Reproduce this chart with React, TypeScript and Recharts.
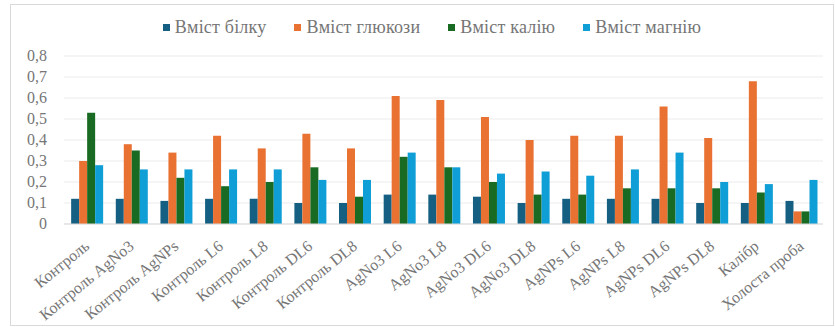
import React from "react";
import { BarChart, Bar, XAxis, YAxis, CartesianGrid, Legend } from "recharts";

const categories = [
  "Контроль",
  "Контроль AgNo3",
  "Контроль AgNPs",
  "Контроль L6",
  "Контроль L8",
  "Контроль DL6",
  "Контроль DL8",
  "AgNo3 L6",
  "AgNo3 L8",
  "AgNo3 DL6",
  "AgNo3 DL8",
  "AgNPs L6",
  "AgNPs L8",
  "AgNPs DL6",
  "AgNPs DL8",
  "Калібр",
  "Холоста проба",
];

const protein = [0.12, 0.12, 0.11, 0.12, 0.12, 0.1, 0.1, 0.14, 0.14, 0.13, 0.1, 0.12, 0.12, 0.12, 0.1, 0.1, 0.11];
const glucose = [0.3, 0.38, 0.34, 0.42, 0.36, 0.43, 0.36, 0.61, 0.59, 0.51, 0.4, 0.42, 0.42, 0.56, 0.41, 0.68, 0.06];
const potassium = [0.53, 0.35, 0.22, 0.18, 0.2, 0.27, 0.13, 0.32, 0.27, 0.2, 0.14, 0.14, 0.17, 0.17, 0.17, 0.15, 0.06];
const magnesium = [0.28, 0.26, 0.26, 0.26, 0.26, 0.21, 0.21, 0.34, 0.27, 0.24, 0.25, 0.23, 0.26, 0.34, 0.2, 0.19, 0.21];

const yTicks = [0, 0.1, 0.2, 0.3, 0.4, 0.5, 0.6, 0.7, 0.8];

const series = [
  { key: "protein", name: "Вміст білку", color: "#156082" },
  { key: "glucose", name: "Вміст глюкози", color: "#E97132" },
  { key: "potassium", name: "Вміст калію", color: "#196B24" },
  { key: "magnesium", name: "Вміст магнію", color: "#0F9ED5" },
];

const data = categories.map((name, i) => ({
  name,
  protein: protein[i],
  glucose: glucose[i],
  potassium: potassium[i],
  magnesium: magnesium[i],
}));

const FONT = "'Liberation Serif', 'Times New Roman', serif";
const TEXT = "#767676";

const fmt = (v: number) => (v === 0 ? "0" : v.toFixed(1).replace(".", ","));

function AngledTick(props: any) {
  const { x, y, payload } = props;
  return (
    <g transform={`translate(${x + 4},${y + 16})`}>
      <text textAnchor="end" fill={TEXT} fontSize={16} fontFamily={FONT} transform="rotate(-39)">
        {payload.value}
      </text>
    </g>
  );
}

function YTick(props: any) {
  const { x, y, payload } = props;
  return (
    <text x={x} y={y} dy={5} textAnchor="end" fill={TEXT} fontSize={16} fontFamily={FONT}>
      {fmt(payload.value)}
    </text>
  );
}

const renderLegend = () => (
  <div style={{ display: "flex", justifyContent: "center", columnGap: 28, paddingLeft: 31, fontFamily: FONT }}>
    {series.map((s) => (
      <span
        key={s.key}
        style={{
          display: "inline-flex",
          alignItems: "center",
          fontFamily: FONT,
          fontSize: 18,
          letterSpacing: 0.2,
          color: TEXT,
          lineHeight: "18px",
        }}
      >
        <span style={{ width: 7, height: 7, background: s.color, marginRight: 5, display: "inline-block" }} />
        {s.name}
      </span>
    ))}
  </div>
);

export default function App() {
  return (
    <div style={{ position: "absolute", left: 0, top: 0, width: 835, height: 327, background: "#fff", fontFamily: FONT }}>
      <div
        style={{
          position: "absolute",
          left: 10,
          top: 4,
          width: 822,
          height: 320,
          border: "1px solid #d9d9d9",
        }}
      />
      <BarChart
        width={835}
        height={327}
        data={data}
        margin={{ top: 18, right: 12, bottom: 8, left: 10 }}
        barCategoryGap="16%"
        barGap={0}
      >
        <CartesianGrid vertical={false} stroke="#ebebeb" />
        <Legend verticalAlign="top" height={38} content={renderLegend} />
        <XAxis
          dataKey="name"
          interval={0}
          height={95}
          tickLine={false}
          axisLine={{ stroke: "#d9d9d9" }}
          tick={<AngledTick />}
        />
        <YAxis
          width={54}
          domain={[0, 0.8]}
          ticks={yTicks}
          interval={0}
          axisLine={false}
          tickLine={false}
          tickSize={0}
          tickMargin={17}
          tick={<YTick />}
        />
        {series.map((s) => (
          <Bar key={s.key} dataKey={s.key} name={s.name} fill={s.color} isAnimationActive={false} />
        ))}
      </BarChart>
    </div>
  );
}
